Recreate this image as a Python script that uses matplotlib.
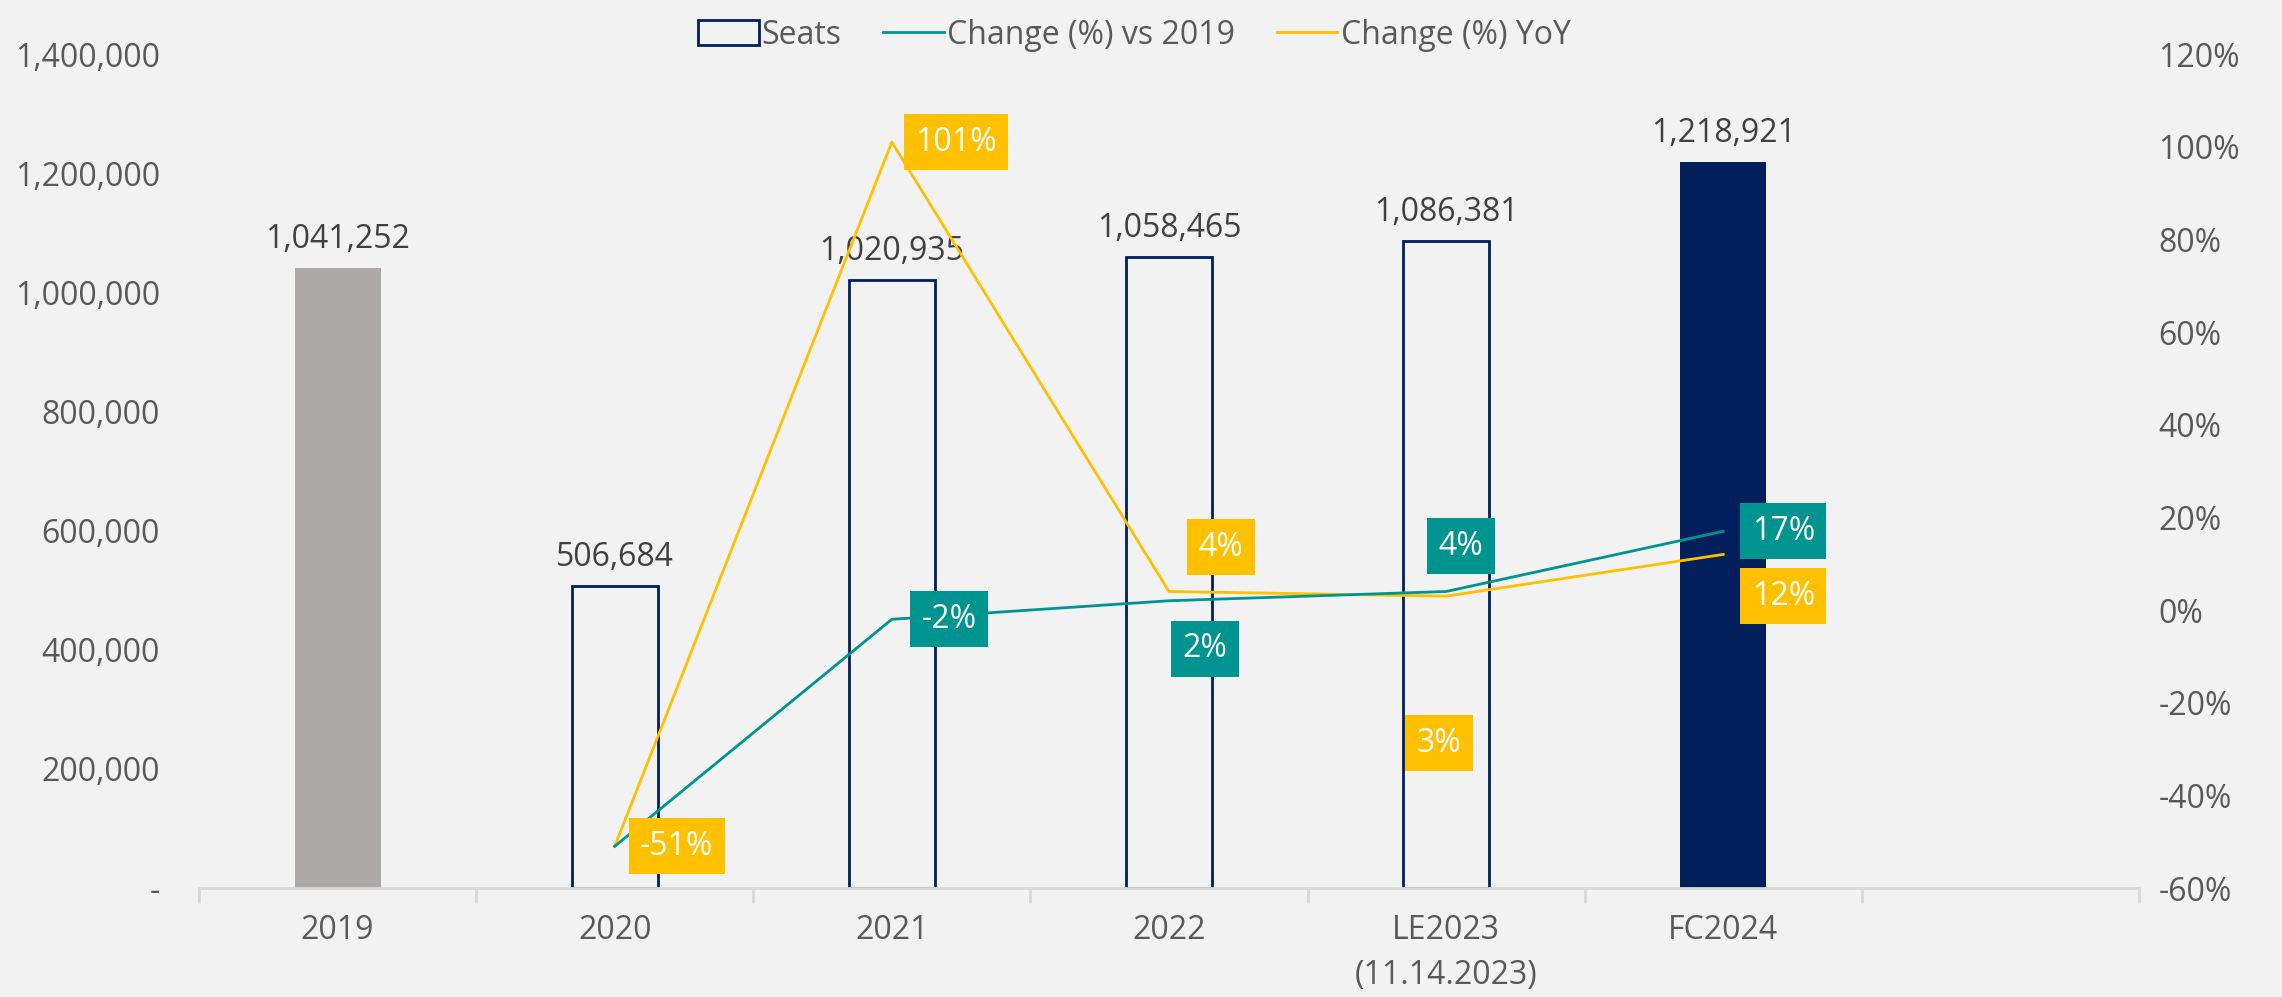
import numpy as np
import matplotlib
matplotlib.use("Agg")
import matplotlib.pyplot as plt
from matplotlib.patches import Patch
from matplotlib.lines import Line2D
from matplotlib.ticker import FuncFormatter


# ── Data ──────────────────────────────────────────────────────────────────────

CATEGORIES   = ["2019", "2020", "2021", "2022", "LE2023\n(11.14.2023)", "FC2024"]
SEATS        = [1041252, 506684, 1020935, 1058465, 1086381, 1218921]
VS_2019_PCT  = [None, -51, -2, 2, 4, 17]
YOY_PCT      = [None, -51, 101, 4, 3, 12]

# label offsets (pixels) for the percentage boxes; None = not drawn
VS_2019_OFFSETS = [None, None, (57, 0), (36, -48), (15, 45), (60, 0)]
YOY_OFFSETS     = [None, (62, 0), (64, 0), (52, 44), (-7, -147), (60, -42)]


# ── Style ─────────────────────────────────────────────────────────────────────

BG      = "#F2F2F2"
NAVY    = "#001F5B"
GREY    = "#AEAAAA"
TEAL    = "#009490"
YELLOW  = "#FFC000"
TXT     = "#595959"
DARKTXT = "#404040"
AXIS    = "#D9D9D9"

plt.rcParams["font.family"] = ["Open Sans", "DejaVu Sans"]
FS = 23

fig = plt.figure(figsize=(22.82, 9.97), dpi=100, facecolor=BG)
ax = fig.add_axes([0.0872, 0.1093, 0.8501, 0.8365])
ax.set_facecolor(BG)
ax2 = ax.twinx()

x = np.arange(len(CATEGORIES))

# ── Bars ──────────────────────────────────────────────────────────────────────

bar_w = 0.31
for i, v in enumerate(SEATS):
    if i == 0:
        ax.bar(x[i], v, width=bar_w, color=GREY, zorder=2)
    elif i == len(SEATS) - 1:
        ax.bar(x[i], v, width=bar_w, color=NAVY, zorder=2)
    else:
        ax.bar(x[i], v, width=bar_w, facecolor="none", edgecolor=NAVY,
               linewidth=2, zorder=2)
    ax.annotate(f"{v:,}", (x[i], v), xytext=(0, 12), textcoords="offset pixels",
                ha="center", va="bottom", fontsize=FS, color=DARKTXT, zorder=3)

ax.set_xlim(-0.5, 6.5)
ax.set_ylim(0, 1400000)
ax.set_yticks(np.arange(0, 1400001, 200000))
ax.yaxis.set_major_formatter(FuncFormatter(lambda v, p: "-" if v == 0 else f"{int(v):,}"))
ax.tick_params(axis="y", length=0, pad=28, labelsize=FS, labelcolor=TXT)

ax.set_xticks(x)
ax.set_xticklabels(CATEGORIES, linespacing=1.45)
ax.set_xticks(np.arange(-0.5, 7.0, 1.0), minor=True)
ax.tick_params(axis="x", which="major", length=0, pad=19, labelsize=FS, labelcolor=TXT)
ax.tick_params(axis="x", which="minor", length=11, width=2, color=AXIS, direction="out")

for s in ["top", "left", "right"]:
    ax.spines[s].set_visible(False)
ax.spines["bottom"].set_color(AXIS)
ax.spines["bottom"].set_linewidth(2)

# ── Lines (secondary axis) ────────────────────────────────────────────────────

ax2.set_ylim(-60, 120)
ax2.set_yticks(np.arange(-60, 121, 20))
ax2.yaxis.set_major_formatter(FuncFormatter(lambda v, p: f"{int(v)}%"))
ax2.tick_params(axis="y", length=0, pad=14, labelsize=FS, labelcolor=TXT)
for s in ax2.spines.values():
    s.set_visible(False)

xs = x[1:]
ax2.plot(xs, YOY_PCT[1:], color=YELLOW, linewidth=2, zorder=3)
ax2.plot(xs, VS_2019_PCT[1:], color=TEAL, linewidth=2, zorder=4)


def pct_box(values, offsets, color):
    for i, (v, off) in enumerate(zip(values, offsets)):
        if v is None or off is None:
            continue
        ax2.annotate(f"{v}%", (x[i], v), xytext=off, textcoords="offset pixels",
                     ha="center", va="center", fontsize=FS, color="white", zorder=6,
                     bbox=dict(boxstyle="square,pad=0.36", facecolor=color,
                               edgecolor="none"))


pct_box(YOY_PCT, YOY_OFFSETS, YELLOW)
pct_box(VS_2019_PCT, VS_2019_OFFSETS, TEAL)

# ── Legend ────────────────────────────────────────────────────────────────────

handles = [
    Patch(facecolor="none", edgecolor=NAVY, linewidth=2, label="Seats"),
    Line2D([], [], color=TEAL, linewidth=2, label="Change (%) vs 2019"),
    Line2D([], [], color=YELLOW, linewidth=2, label="Change (%) YoY"),
]
leg = fig.legend(handles=handles, loc="upper center", bbox_to_anchor=(0.497, 1.01),
                 ncol=3, frameon=False, fontsize=FS, handlelength=1.9,
                 handletextpad=0.1, columnspacing=1.3, handleheight=0.8)
for t in leg.get_texts():
    t.set_color(TXT)

fig.savefig("out.png", dpi=100, facecolor=BG)
